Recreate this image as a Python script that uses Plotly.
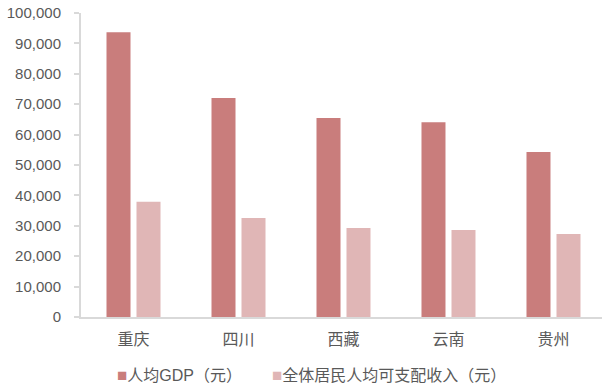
import plotly.graph_objects as go

categories = ["重庆", "四川", "西藏", "云南", "贵州"]
gdp = [93700, 72000, 65500, 64100, 54300]
income = [37900, 32600, 29300, 28600, 27300]
series_names = ["人均GDP（元）", "全体居民人均可支配收入（元）"]
colors = ["#C97D7C", "#E0B6B6"]
y_ticks = list(range(0, 100001, 10000))

FONT = "Arial, 'Liberation Sans', 'Noto Sans CJK SC', sans-serif"
GRAY = "#595959"

fig = go.Figure()
for vals, name, col in zip([gdp, income], series_names, colors):
    fig.add_trace(go.Bar(x=categories, y=vals, name=name, marker_color=col,
                         marker_line_width=0, showlegend=False))

# legend drawn as text entries (square glyph + label)
legend_x = [0.066, 0.362]
for name, col, lx in zip(series_names, colors, legend_x):
    fig.add_annotation(
        xref="paper", yref="paper", x=lx, y=-0.194, xanchor="left", yanchor="middle",
        showarrow=False,
        text=f"<span style='color:{col};font-size:17px'>■</span>{name}",
        font=dict(size=16, color=GRAY, family=FONT),
    )

fig.update_layout(
    width=602, height=385,
    margin=dict(l=81, r=0, t=13, b=68),
    paper_bgcolor="white", plot_bgcolor="white",
    barmode="group", bargap=0.4286, bargroupgap=0.2,
    font=dict(family=FONT, size=15, color=GRAY),
    showlegend=False,
)
fig.update_xaxes(range=[-0.5, 4.462], showline=True, linecolor="#D9D9D9", linewidth=2,
                 ticks="", showgrid=False, tickfont=dict(size=16, color=GRAY), ticklabelstandoff=7)
fig.update_yaxes(range=[0, 100000], tickvals=y_ticks, tickformat=",d", showline=True,
                 linecolor="#D9D9D9", linewidth=2, ticks="outside", ticklen=5, tickcolor="#D9D9D9",
                 tickwidth=1.5, showgrid=False, zeroline=False, tickfont=dict(size=15, color=GRAY),
                 ticklabelstandoff=10)

fig.write_html("out.html")
